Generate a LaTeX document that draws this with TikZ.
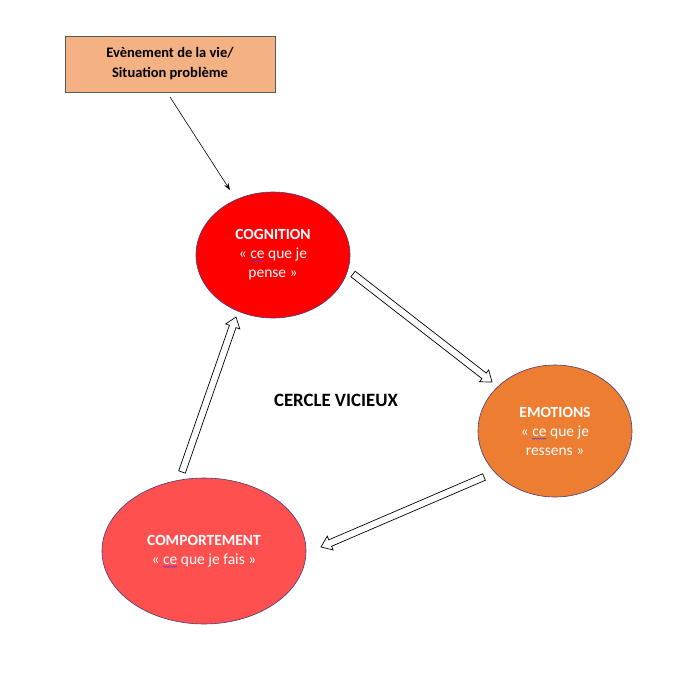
\documentclass[tikz,border=0pt]{standalone}
\usepackage{fontspec}
\setmainfont{Carlito}
\usetikzlibrary{calc,shapes.geometric,arrows.meta,decorations.pathmorphing}
\definecolor{boxfill}{HTML}{F4B183}
\definecolor{cogfill}{HTML}{FF0000}
\definecolor{emofill}{HTML}{ED7D31}
\definecolor{compfill}{HTML}{FF5050}
\definecolor{edgeviolet}{HTML}{4A3C7C}
\definecolor{waveviolet}{HTML}{5B3FD0}
\newlength\sqw
\newcommand\squig[1]{\settowidth\sqw{#1}\rlap{#1}\tikz[baseline=0pt,overlay]\draw[decorate,decoration={snake,amplitude=0.6pt,segment length=2.4pt},draw=waveviolet,line width=0.5pt] (0pt,-2.6pt) -- (\sqw,-2.6pt);\hspace{\sqw}}
\newcommand\blockarrow[2]{%
  \coordinate (hb) at ($(#2)!10pt!(#1)$);
  \draw[blockarr] ($(#1)!3.5pt!90:(#2)$) -- ($(hb)!3.5pt!90:(#2)$) -- ($(hb)!7.5pt!90:(#2)$) -- (#2)
    -- ($(hb)!7.5pt!-90:(#2)$) -- ($(hb)!3.5pt!-90:(#2)$) -- ($(#1)!3.5pt!-90:(#2)$) -- cycle;}
\begin{document}
\begin{tikzpicture}[x=1pt,y=-1pt,
  bubble/.style={ellipse,draw=edgeviolet,line width=0.6pt,text=white,align=center,
    font=\fontsize{15.5}{19}\selectfont,inner sep=0pt},
  evbox/.style={rectangle,draw=gray!70!black,line width=0.6pt,fill=boxfill,align=center,
    font=\bfseries\fontsize{14.5}{20}\selectfont},
  blockarr/.style={draw=black,fill=white,line width=0.7pt,line join=miter},
  thinarr/.style={draw=black,line width=0.6pt,-{Stealth[length=7pt,width=5pt]}}]
\useasboundingbox (0,0) rectangle (680,674);
\node[evbox,minimum width=210pt,minimum height=56pt] (ev) at (170,64) {Evènement de la vie/\\Situation problème};
\node[bubble,fill=cogfill,minimum width=154pt,minimum height=126pt] (cog) at (273,255)
  {\textbf{COGNITION}\\« \squig{ce} que je\\pense »};
\node[bubble,fill=emofill,minimum width=154pt,minimum height=132pt] (emo) at (555,431)
  {\textbf{EMOTIONS}\\« \squig{ce} que je\\ressens »};
\node[bubble,fill=compfill,minimum width=204pt,minimum height=146pt] (comp) at (204,551)
  {\textbf{COMPORTEMENT}\\« \squig{ce} que je fais »};
\node[font=\bfseries\fontsize{18.8}{22}\selectfont] (title) at (336,400) {CERCLE VICIEUX};
\coordinate (evout) at (170,97);
\coordinate (cogin) at (230,190);
\draw[thinarr] (evout) -- (cogin);
\coordinate (a1) at (353,274);
\coordinate (b1) at (492,382);
\coordinate (a2) at (484,477);
\coordinate (b2) at (321,547);
\coordinate (a3) at (182,472);
\coordinate (b3) at (236,317);
\blockarrow{a1}{b1}
\blockarrow{a2}{b2}
\blockarrow{a3}{b3}
\end{tikzpicture}
\end{document}
